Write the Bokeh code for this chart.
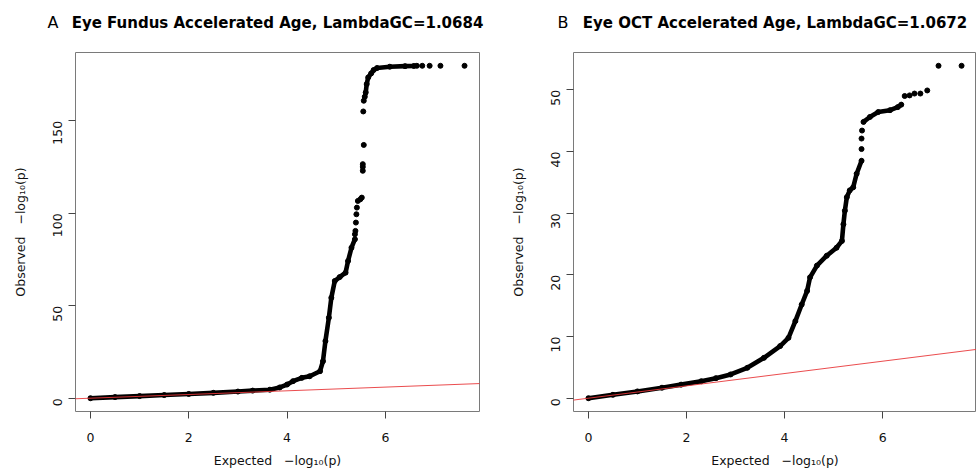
import math
from bokeh.plotting import figure
from bokeh.models import Range1d, FixedTicker, Slope
from bokeh.layouts import row, column
from bokeh.core.properties import value
from bokeh.embed import file_html
from bokeh.resources import INLINE

FONT = "DejaVu Sans"

# ---------------- Panel A data ----------------
a_letter = "A"
a_title = "Eye Fundus Accelerated Age, LambdaGC=1.0684"
a_xticks = [0, 2, 4, 6]
a_yticks = [0, 50, 100, 150]
a_band1_exp = [0.0, 0.5, 1.0, 1.5, 2.0, 2.5, 3.0, 3.3, 3.65, 3.85, 4.0, 4.12, 4.3, 4.46,
               4.67, 4.73, 4.78, 4.85, 4.90, 4.97, 5.07, 5.19, 5.24, 5.31, 5.38]
a_band1_obs = [0.0, 0.6, 1.15, 1.7, 2.3, 2.9, 3.6, 4.1, 4.6, 5.8, 7.4, 9.2, 11.0, 11.9,
               14.6, 20.0, 30.9, 43.5, 54.3, 63.4, 65.5, 67.9, 74.2, 81.4, 86.0]
a_band2_exp = [5.58, 5.60, 5.62, 5.65, 5.71, 5.76, 5.83, 6.09, 6.40, 6.58]
a_band2_obs = [163.0, 165.4, 169.9, 173.5, 175.7, 177.5, 178.6, 179.3, 179.6, 179.7]
a_dots_exp = [5.38, 5.39, 5.40, 5.41, 5.42, 5.44, 5.49, 5.52, 5.54, 5.54, 5.54, 5.56,
              5.55, 5.56, 6.64, 6.75, 6.90, 7.12, 7.61]
a_dots_obs = [88.7, 90.5, 95.0, 99.5, 103.1, 106.7, 107.6, 108.5, 123.0, 125.1, 126.6, 137.0,
              155.1, 160.9, 179.8, 179.8, 179.8, 179.8, 179.8]

# ---------------- Panel B data ----------------
b_letter = "B"
b_title = "Eye OCT Accelerated Age, LambdaGC=1.0672"
b_xticks = [0, 2, 4, 6]
b_yticks = [0, 10, 20, 30, 40, 50]
b_band1_exp = [0.0, 0.5, 1.0, 1.5, 1.89, 2.3, 2.6, 2.9, 3.24, 3.58, 3.91, 4.08, 4.22, 4.35,
               4.46, 4.52, 4.66, 4.86, 5.06, 5.17, 5.20, 5.23, 5.27, 5.33, 5.40, 5.47, 5.57]
b_band1_obs = [0.0, 0.55, 1.1, 1.7, 2.2, 2.75, 3.25, 3.85, 4.93, 6.55, 8.46, 9.8, 12.5, 15.2,
               17.4, 19.6, 21.5, 23.1, 24.4, 25.5, 28.2, 30.4, 32.6, 33.7, 34.2, 36.4, 38.5]
b_band2_exp = [5.61, 5.74, 5.91, 6.15, 6.31, 6.38]
b_band2_obs = [44.8, 45.6, 46.4, 46.7, 47.2, 47.6]
b_dots_exp = [5.57, 5.57, 5.58, 6.45, 6.55, 6.65, 6.77, 6.91, 7.14, 7.61]
b_dots_obs = [40.4, 42.1, 43.4, 49.0, 49.1, 49.4, 49.4, 49.9, 53.9, 53.9]

x_label = "Expected\u00a0\u00a0\u00a0\u2212log\u2081\u2080(p)"
y_label = "Observed\u00a0\u00a0\u00a0\u2212log\u2081\u2080(p)"

TOP = 52        # height of the title strip (pixels)
FRAME_H = 359
BOTTOM = 59


def make_panel(bands, dots, xticks, yticks, border_left, border_right, frame_w):
    all_x = [v for b in bands for v in b[0]] + list(dots[0])
    all_y = [v for b in bands for v in b[1]] + list(dots[1])
    xpad = 0.04 * (max(all_x) - min(all_x))
    ypad = 0.04 * (max(all_y) - min(all_y))
    p = figure(width=border_left + frame_w + border_right, height=FRAME_H + BOTTOM,
               x_range=Range1d(min(all_x) - xpad, max(all_x) + xpad),
               y_range=Range1d(min(all_y) - ypad, max(all_y) + ypad),
               output_backend="svg", toolbar_location=None,
               min_border_left=border_left, min_border_right=border_right,
               min_border_top=0, min_border_bottom=BOTTOM)
    p.xgrid.visible = False
    p.ygrid.visible = False
    p.outline_line_color = "#7a7a7a"
    p.outline_line_width = 1
    p.background_fill_color = "white"
    p.border_fill_color = "white"

    for bx, by in bands:
        p.line(bx, by, line_color="black", line_width=4.6, line_cap="round", line_join="round")
        p.scatter(bx, by, size=5, color="black")
    p.scatter(dots[0], dots[1], size=5, color="black")

    p.add_layout(Slope(gradient=1, y_intercept=0, line_color="#e8383b", line_width=1,
                       line_alpha=0.9))

    p.xaxis.ticker = FixedTicker(ticks=xticks)
    p.yaxis.ticker = FixedTicker(ticks=yticks)
    for ax in (p.xaxis[0], p.yaxis[0]):
        ax.axis_line_color = None
        ax.major_tick_line_color = "#444444"
        ax.major_tick_out = 7
        ax.major_tick_in = 0
        ax.minor_tick_line_color = None
        ax.major_label_text_font = FONT
        ax.major_label_text_font_size = "12.5px"
        ax.major_label_text_color = "#111111"
        ax.axis_label_text_font = FONT
        ax.axis_label_text_font_size = "12.5px"
        ax.axis_label_text_font_style = "normal"
        ax.axis_label_text_color = "#111111"
    p.xaxis.axis_label = x_label
    p.yaxis.axis_label = y_label
    p.xaxis.major_label_standoff = 14
    p.xaxis.axis_label_standoff = 8
    p.yaxis.major_label_orientation = math.pi / 2
    p.yaxis.major_label_standoff = 11
    p.yaxis.axis_label_standoff = 18
    return p


A_LEFT, A_FRAME, A_RIGHT = 75, 404, 9
B_LEFT, B_FRAME, B_RIGHT = 85, 403, 0

pA = make_panel([(a_band1_exp, a_band1_obs), (a_band2_exp, a_band2_obs)],
                (a_dots_exp, a_dots_obs), a_xticks, a_yticks, A_LEFT, A_RIGHT, A_FRAME)
pB = make_panel([(b_band1_exp, b_band1_obs), (b_band2_exp, b_band2_obs)],
                (b_dots_exp, b_dots_obs), b_xticks, b_yticks, B_LEFT, B_RIGHT, B_FRAME)

wA = A_LEFT + A_FRAME + A_RIGHT
total_w = wA + B_LEFT + B_FRAME + B_RIGHT

# title strip (pixel coordinates, y downward)
t = figure(width=total_w, height=TOP, x_range=Range1d(0, total_w), y_range=Range1d(TOP, 0),
           output_backend="svg", toolbar_location=None, min_border=0,
           x_axis_type=None, y_axis_type=None)
t.outline_line_color = None
t.xgrid.visible = False
t.ygrid.visible = False
t.border_fill_color = "white"
baseline = 22
t.text(x=[A_LEFT - 28, wA + B_LEFT - 16], y=[baseline, baseline], text=[a_letter, b_letter],
       text_font=value(FONT), text_font_size="16px", text_align="left",
       text_baseline="alphabetic", text_color="black")
t.text(x=[A_LEFT + A_FRAME / 2, wA + B_LEFT + B_FRAME / 2], y=[baseline, baseline],
       text=[a_title, b_title], text_font=value(FONT), text_font_style="bold",
       text_font_size="15px", text_align="center", text_baseline="alphabetic",
       text_color="black")

layout = column(t, row(pA, pB))
open("out.html", "w").write(file_html(layout, INLINE))
